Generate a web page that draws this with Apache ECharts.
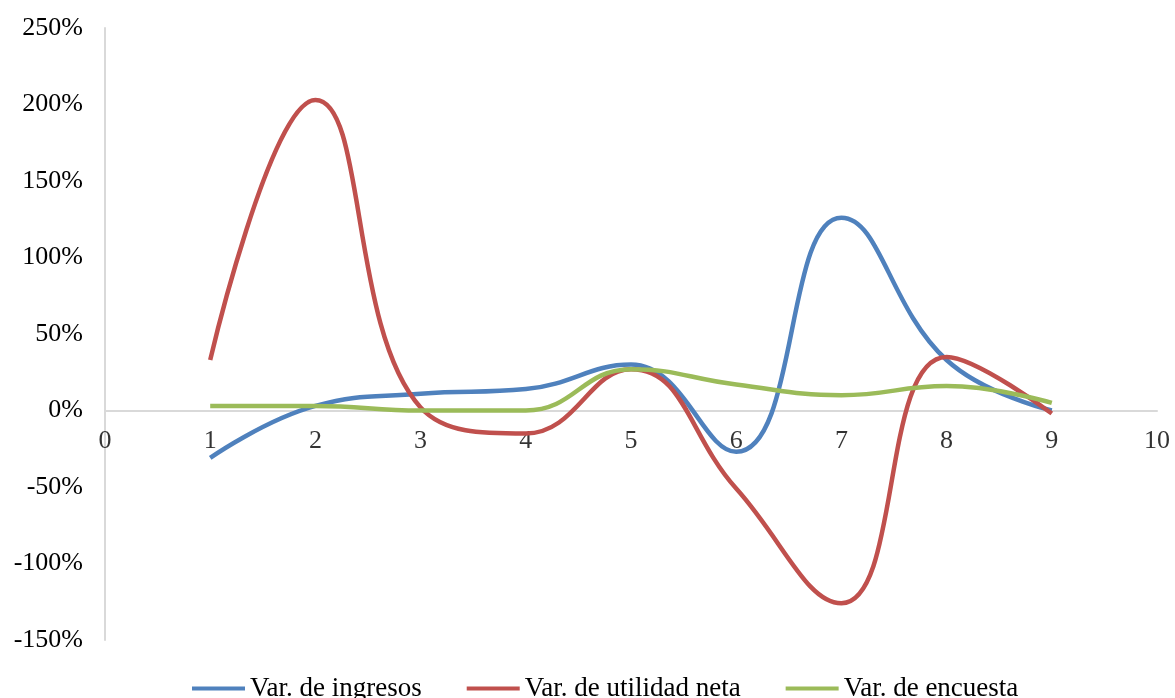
<!DOCTYPE html>
<html><head><meta charset="utf-8">
<script src="https://cdn.jsdelivr.net/npm/echarts@6/dist/echarts.min.js"></script>
<style>html,body{margin:0;padding:0;background:#fff}#c{width:1175px;height:698px}</style>
</head><body><div id="c"></div>
<script>
var xValues = [1, 2, 3, 4, 5, 6, 7, 8, 9];
var ingresos = [-0.31, 0.03, 0.11, 0.14, 0.30, -0.27, 1.26, 0.33, 0.00];
var utilidad = [0.33, 2.03, 0.02, -0.15, 0.27, -0.51, -1.26, 0.35, -0.02];
var encuesta = [0.03, 0.03, 0.00, 0.00, 0.27, 0.17, 0.10, 0.16, 0.05];
var xTickLabels = [0, 1, 2, 3, 4, 5, 6, 7, 8, 9, 10];
var seriesNames = ['Var. de ingresos', 'Var. de utilidad neta', 'Var. de encuesta'];
var colors = ['#4F81BD', '#C0504D', '#9BBB59'];

function pairs(vals){ return xValues.map(function(x,i){ return [x, vals[i]]; }); }
var font = 'Liberation Serif, Times New Roman, serif';
var chart = echarts.init(document.getElementById('c'));
var lineSeries = [ingresos, utilidad, encuesta].map(function(vals, i){
  return {name: seriesNames[i], type: 'line', smooth: 0.45, showSymbol: false,
    data: pairs(vals), lineStyle: {width: 4.5, color: colors[i]}, itemStyle: {color: colors[i]}, z: 3};
});
chart.setOption({
  animation: false,
  grid: {left: 105, right: 18, top: 28, bottom: 58, containLabel: false},
  xAxis: {
    type: 'value', min: 0, max: 10, interval: 1,
    axisLine: {onZero: true, lineStyle: {color: '#d9d9d9', width: 2}},
    axisTick: {show: false},
    splitLine: {show: false},
    axisLabel: {show: false}
  },
  yAxis: {
    type: 'value', min: -1.5, max: 2.5, interval: 0.5,
    axisLine: {show: true, onZero: false, lineStyle: {color: '#d9d9d9', width: 2}},
    axisTick: {show: false},
    splitLine: {show: false},
    axisLabel: {color: '#000', fontFamily: font, fontSize: 26, margin: 22,
      formatter: function(v){ return Math.round(v*100) + '%'; }}
  },
  legend: {
    data: seriesNames,
    top: 670, left: 187,
    icon: 'rect', itemWidth: 53, itemHeight: 4, itemGap: 45,
    textStyle: {color: '#000', fontFamily: font, fontSize: 27}
  },
  series: lineSeries.concat([{
    name: 'xTicks', type: 'scatter', silent: true, symbol: 'circle', symbolSize: 1,
    itemStyle: {color: 'rgba(0,0,0,0)'}, z: 1,
    data: xTickLabels.map(function(t){ return [t, 0]; }),
    label: {show: true, position: 'bottom', distance: 17, color: '#000', fontFamily: font, fontSize: 26,
      formatter: function(p){ return String(xTickLabels[p.dataIndex]); }}
  }])
});
</script></body></html>
